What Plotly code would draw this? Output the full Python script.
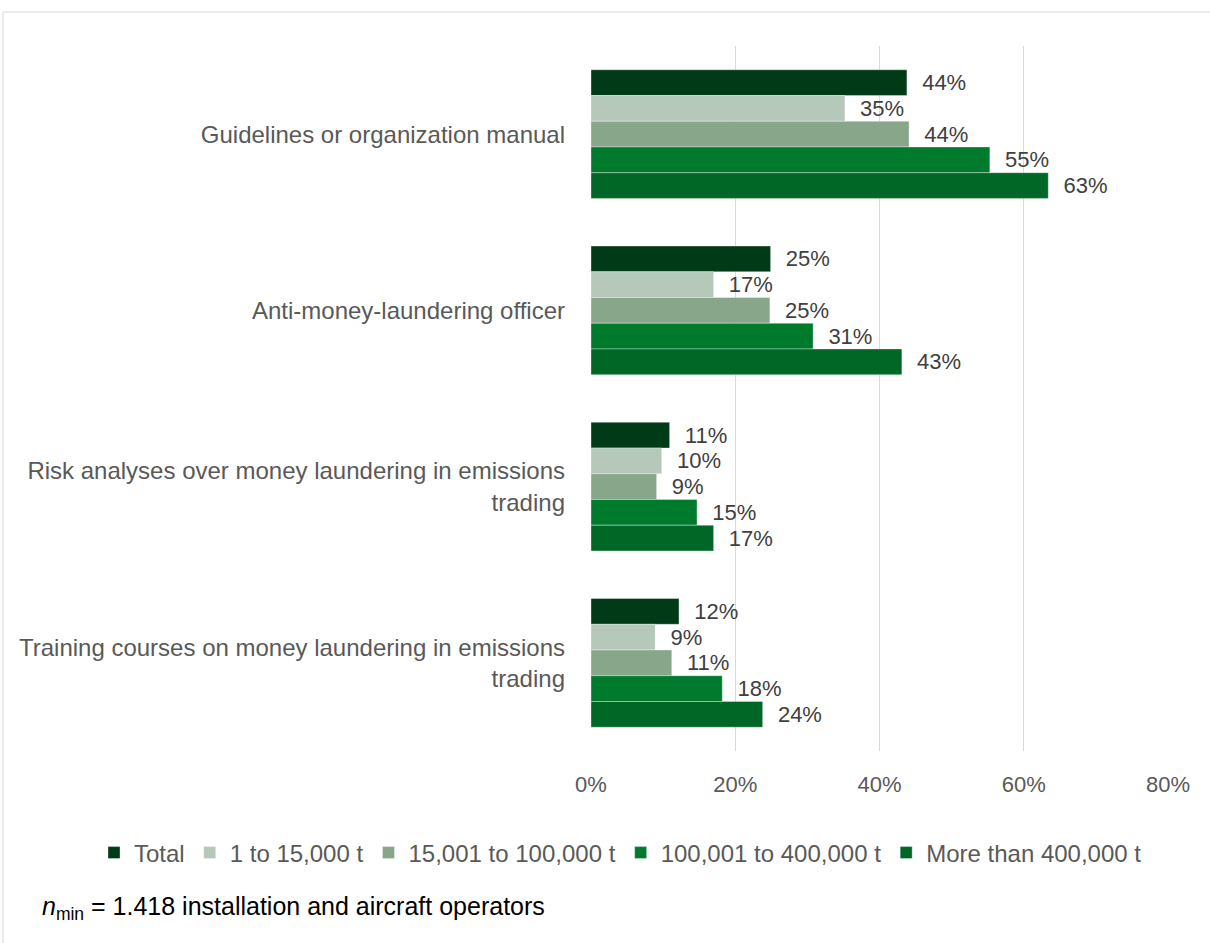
import plotly.graph_objects as go

# Measures against money laundering, by annual emissions class
categories = [
    "Guidelines or organization manual",
    "Anti-money-laundering officer",
    "Risk analyses over money laundering in emissions<br>trading",
    "Training courses on money laundering in emissions<br>trading",
]

series_names = [
    "Total",
    "1 to 15,000 t",
    "15,001 to 100,000 t",
    "100,001 to 400,000 t",
    "More than 400,000 t",
]

total = [0.438, 0.249, 0.109, 0.122]
small = [0.352, 0.170, 0.098, 0.089]
medium = [0.441, 0.248, 0.091, 0.112]
large = [0.553, 0.308, 0.147, 0.182]
very_large = [0.634, 0.431, 0.170, 0.238]

series_values = [total, small, medium, large, very_large]
colors = ["#003A17", "#B6C8B9", "#88A78A", "#007A2C", "#006726"]

tick_values = [0, 0.2, 0.4, 0.6, 0.8]
tick_labels = ["0%", "20%", "40%", "60%", "80%"]

FONT = "Liberation Sans"
W, H = 1210, 943
L, R, T, B = 591, 42, 46, 192
pw = W - L - R
ph = H - T - B


def px_x(p):
    """Horizontal pixel position -> paper x."""
    return (p - L) / pw


def px_y(p):
    """Vertical pixel position -> paper y."""
    return (T + ph - p) / ph


fig = go.Figure()
for name, vals, col in zip(series_names, series_values, colors):
    fig.add_trace(go.Bar(
        y=categories,
        x=vals,
        name=name,
        orientation="h",
        marker=dict(color=col, line=dict(color="rgba(255,255,255,0.35)", width=1)),
        texttemplate="\u00a0\u00a0%{x:.0%}",
        textposition="outside",
        textfont=dict(family=FONT, size=22, color="#404040"),
        cliponaxis=False,
    ))

# light frame around the whole chart area
fig.add_shape(
    type="rect", xref="paper", yref="paper",
    x0=px_x(3), x1=px_x(1220), y0=px_y(955), y1=px_y(12),
    line=dict(color="#D9D9D9", width=1), fillcolor="rgba(0,0,0,0)", layer="below",
)

fig.add_annotation(
    xref="paper", yref="paper",
    x=px_x(40), y=px_y(908),
    xanchor="left", yanchor="middle",
    text="<i>n</i><sub>min</sub> = 1.418 installation and aircraft operators",
    showarrow=False,
    font=dict(family=FONT, size=25, color="#000000"),
)

fig.update_layout(
    width=W, height=H,
    margin=dict(l=L, r=R, t=T, b=B),
    paper_bgcolor="white", plot_bgcolor="white",
    barmode="group", bargap=0.27, bargroupgap=0,
    font=dict(family=FONT, size=20, color="#595959"),
    showlegend=True,
    legend=dict(
        orientation="h", xref="paper", yref="paper",
        x=px_x(94), xanchor="left",
        y=px_y(853), yanchor="middle",
        traceorder="normal",
        font=dict(family=FONT, size=24, color="#595959"),
    ),
    xaxis=dict(
        range=[0, 0.8], tickvals=tick_values, ticktext=tick_labels,
        showgrid=True, gridcolor="#D9D9D9", gridwidth=1,
        zeroline=False, showline=False, ticks="",
        ticklabelstandoff=18,
        tickfont=dict(family=FONT, size=22, color="#595959"),
    ),
    yaxis=dict(
        autorange="reversed", showgrid=False, showline=False, ticks="",
        ticklabelstandoff=25,
        tickfont=dict(family=FONT, size=24, color="#595959"),
    ),
)

fig.write_html("out.html")
